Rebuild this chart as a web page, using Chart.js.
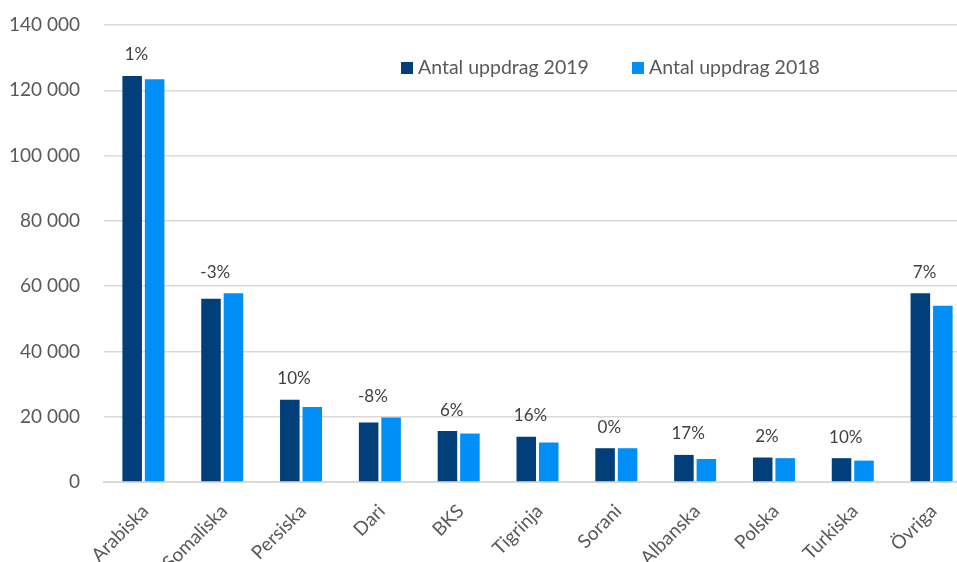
<!DOCTYPE html>
<html lang="sv">
<head>
<meta charset="utf-8">
<title>Antal uppdrag per språk</title>
<script src="https://cdn.jsdelivr.net/npm/chart.js@4.4.0/dist/chart.umd.min.js"></script>
<style>
    html, body {
        margin: 0;
        padding: 0;
        background: #ffffff;
        overflow: hidden;
    }
    .chart-wrap {
        position: relative;
        width: 975px;
        height: 562px;
    }
</style>
</head>
<body>
<div class="chart-wrap">
    <canvas id="uppdragChart"></canvas>
</div>
<script>
// Data
const languages = ['Arabiska', 'Somaliska', 'Persiska', 'Dari', 'BKS', 'Tigrinja', 'Sorani', 'Albanska', 'Polska', 'Turkiska', 'Övriga'];
const uppdrag2019 = [124400, 56100, 25200, 18200, 15600, 13900, 10350, 8300, 7500, 7300, 57800];
const uppdrag2018 = [123400, 57800, 23000, 19750, 14850, 12100, 10350, 7050, 7300, 6550, 54000];
const changeLabels = ['1%', '-3%', '10%', '-8%', '6%', '16%', '0%', '17%', '2%', '10%', '7%'];
const yTicks = [0, 20000, 40000, 60000, 80000, 100000, 120000, 140000];

const seriesNames = ['Antal uppdrag 2019', 'Antal uppdrag 2018'];
const seriesColors = ['#003F7A', '#008FF6'];
const textColor = '#595959';
const gridColor = '#D9D9D9';
const fontFamily = 'Lato, "Open Sans", sans-serif';

function formatThousands(value) {
    return String(value).replace(/\B(?=(\d{3})+(?!\d))/g, ' ');
}

// Percent change above each pair of bars
const changeLabelPlugin = {
    id: 'changeLabels',
    afterDatasetsDraw(chart) {
        const ctx = chart.ctx;
        const yScale = chart.scales.y;
        const xScale = chart.scales.x;
        ctx.save();
        ctx.font = '17px ' + fontFamily;
        ctx.fillStyle = '#404040';
        ctx.textAlign = 'center';
        ctx.textBaseline = 'middle';
        changeLabels.forEach((label, i) => {
            const top = Math.max(uppdrag2019[i], uppdrag2018[i]);
            const x = xScale.getPixelForValue(i) - 7;
            const y = yScale.getPixelForValue(top) - 21;
            ctx.fillText(label, x, y);
        });
        ctx.restore();
    }
};

// Legend drawn inside the plot, like the original
const innerLegendPlugin = {
    id: 'innerLegend',
    afterDraw(chart) {
        const ctx = chart.ctx;
        const boxX = [401, 632];
        const centerY = 68;
        ctx.save();
        ctx.font = '19.5px ' + fontFamily;
        ctx.textBaseline = 'middle';
        ctx.textAlign = 'left';
        seriesNames.forEach((name, i) => {
            ctx.fillStyle = seriesColors[i];
            ctx.fillRect(boxX[i], centerY - 6, 12, 12);
            ctx.fillStyle = textColor;
            ctx.fillText(name, boxX[i] + 17, centerY);
        });
        ctx.restore();
    }
};

const ctx = document.getElementById('uppdragChart');
new Chart(ctx, {
    type: 'bar',
    data: {
        labels: languages,
        datasets: [{
            label: seriesNames[0],
            data: uppdrag2019,
            backgroundColor: seriesColors[0],
            categoryPercentage: 0.57,
            barPercentage: 0.87
        }, {
            label: seriesNames[1],
            data: uppdrag2018,
            backgroundColor: seriesColors[1],
            categoryPercentage: 0.57,
            barPercentage: 0.87
        }]
    },
    options: {
        responsive: true,
        maintainAspectRatio: false,
        animation: false,
        layout: {
            padding: { top: 25, right: 4, bottom: 0, left: 0 }
        },
        plugins: {
            legend: { display: false },
            tooltip: { enabled: false }
        },
        scales: {
            x: {
                grid: { display: false },
                border: { color: gridColor, width: 2 },
                ticks: {
                    color: textColor,
                    font: { family: fontFamily, size: 19 },
                    minRotation: 45,
                    maxRotation: 45,
                    padding: 10,
                    labelOffset: 2
                },
                afterFit(scale) {
                    scale.height = 80;
                }
            },
            y: {
                min: 0,
                max: 140000,
                afterBuildTicks(scale) {
                    scale.ticks = yTicks.map(v => ({ value: v }));
                },
                grid: {
                    color: gridColor,
                    lineWidth: 1.5,
                    drawTicks: true,
                    tickLength: 24,
                    tickColor: 'rgba(0,0,0,0)'
                },
                border: { display: false },
                ticks: {
                    color: textColor,
                    font: { family: fontFamily, size: 19 },
                    padding: 0,
                    callback: value => formatThousands(value)
                },
                afterFit(scale) {
                    scale.width = 104;
                }
            }
        }
    },
    plugins: [changeLabelPlugin, innerLegendPlugin]
});
</script>
</body>
</html>
